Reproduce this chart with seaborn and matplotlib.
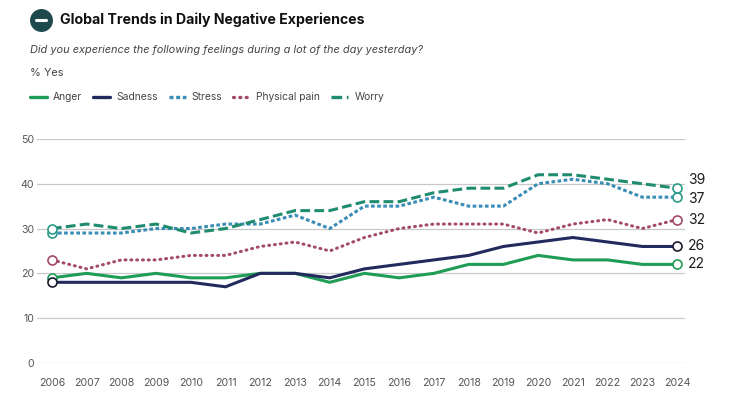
import matplotlib
matplotlib.use("Agg")
import matplotlib.pyplot as plt
import seaborn as sns
import pandas as pd

years = list(range(2006, 2025))
anger = [19, 20, 19, 20, 19, 19, 20, 20, 18, 20, 19, 20, 22, 22, 24, 23, 23, 22, 22]
sadness = [18, 18, 18, 18, 18, 17, 20, 20, 19, 21, 22, 23, 24, 26, 27, 28, 27, 26, 26]
stress = [29, 29, 29, 30, 30, 31, 31, 33, 30, 35, 35, 37, 35, 35, 40, 41, 40, 37, 37]
pain = [23, 21, 23, 23, 24, 24, 26, 27, 25, 28, 30, 31, 31, 31, 29, 31, 32, 30, 32]
worry = [30, 31, 30, 31, 29, 30, 32, 34, 34, 36, 36, 38, 39, 39, 42, 42, 41, 40, 39]
series_names = ["Anger", "Sadness", "Stress", "Physical pain", "Worry"]
y_ticks = [0, 10, 20, 30, 40, 50]

colors = {"Anger": "#1f9d55", "Sadness": "#222a5e", "Stress": "#3a8db5",
          "Physical pain": "#a34a6a", "Worry": "#1f8c6f"}
marker_edge = {"Anger": "#1f9d55", "Sadness": "#1a1a2e", "Stress": "#2a9a8a",
               "Physical pain": "#a34a6a", "Worry": "#2a9a8a"}
dashes = {"Anger": "", "Sadness": "", "Stress": (1.2, 0.8),
          "Physical pain": (0.3, 1.6), "Worry": (3.2, 1.4)}
label_offset = {"Anger": 0, "Sadness": 0, "Stress": -1, "Physical pain": 0, "Worry": 6}

values = [anger, sadness, stress, pain, worry]
df = pd.DataFrame({
    "year": years * 5,
    "value": sum(values, []),
    "series": sum([[n] * len(years) for n in series_names], []),
})

sns.set_theme(style="white")
plt.rcParams['font.family'] = ['Inter', 'DejaVu Sans']

fig = plt.figure(figsize=(7.54, 4.03), dpi=100)
ax = fig.add_axes([0.049, 0.0993, 0.8595, 0.556])

sns.lineplot(data=df, x="year", y="value", hue="series", style="series",
             palette=colors, dashes=dashes, linewidth=2.2, ax=ax, legend=False)
for line, name in zip(ax.get_lines(), series_names):
    if name == "Physical pain":
        line.set_dash_capstyle("round")

for name, vals in zip(series_names, values):
    ax.plot([years[0], years[-1]], [vals[0], vals[-1]], linestyle="none",
            marker="o", markersize=6.5, markerfacecolor="white",
            markeredgecolor=marker_edge[name], markeredgewidth=1.2, zorder=5)
    ax.annotate(str(vals[-1]), xy=(years[-1], vals[-1]), xytext=(8, label_offset[name]),
                textcoords="offset points", va="center", ha="left",
                fontsize=10, color="#1a1a1a", annotation_clip=False)

ax.set_xlim(2005.57, 2024.23)
ax.set_ylim(0, 50)
ax.set_yticks(y_ticks)
ax.set_xticks(years)
ax.set_xticklabels([str(y) for y in years])
ax.yaxis.grid(True, color="#c8c8c8", linewidth=0.9)
ax.set_axisbelow(True)
for s in ax.spines.values():
    s.set_visible(False)
ax.tick_params(axis="both", length=0, labelsize=7.6, colors="#555555")
ax.tick_params(axis="y", pad=2)
ax.tick_params(axis="x", pad=11)
ax.set_xlabel("")
ax.set_ylabel("")

# header icon
fig.lines.append(plt.Line2D([41 / 754], [1 - 20 / 403], transform=fig.transFigure,
                            marker="o", markersize=15.5, color="#1e4a4e", linestyle="none"))
fig.lines.append(plt.Line2D([36 / 754, 46 / 754], [1 - 20 / 403, 1 - 20 / 403],
                            transform=fig.transFigure, color="white", linewidth=2.2))
fig.text(60 / 754, 1 - 20 / 403, "Global Trends in Daily Negative Experiences",
         fontsize=10.2, fontweight="bold", color="#111111", va="center")
fig.text(30 / 754, 1 - 50 / 403,
         "Did you experience the following feelings during a lot of the day yesterday?",
         fontsize=7.9, style="italic", color="#444444", va="center")
fig.text(30 / 754, 1 - 73 / 403, "% Yes", fontsize=7.9, color="#444444", va="center")

# legend
x = 30
ly = 1 - 97 / 403
for name in series_names:
    d = dashes[name]
    ls = "-" if d == "" else (0, d)
    ln = plt.Line2D([x / 754, (x + 17) / 754], [ly, ly], transform=fig.transFigure,
                    color=colors[name], linewidth=2.4, linestyle=ls,
                    dash_capstyle="round" if name == "Physical pain" else "butt")
    fig.lines.append(ln)
    t = fig.text((x + 23) / 754, ly, name, fontsize=7.4, color="#444444", va="center")
    fig.canvas.draw()
    bb = t.get_window_extent()
    x = bb.x1 + 11

fig.savefig("out.png", dpi=100, facecolor="white")
